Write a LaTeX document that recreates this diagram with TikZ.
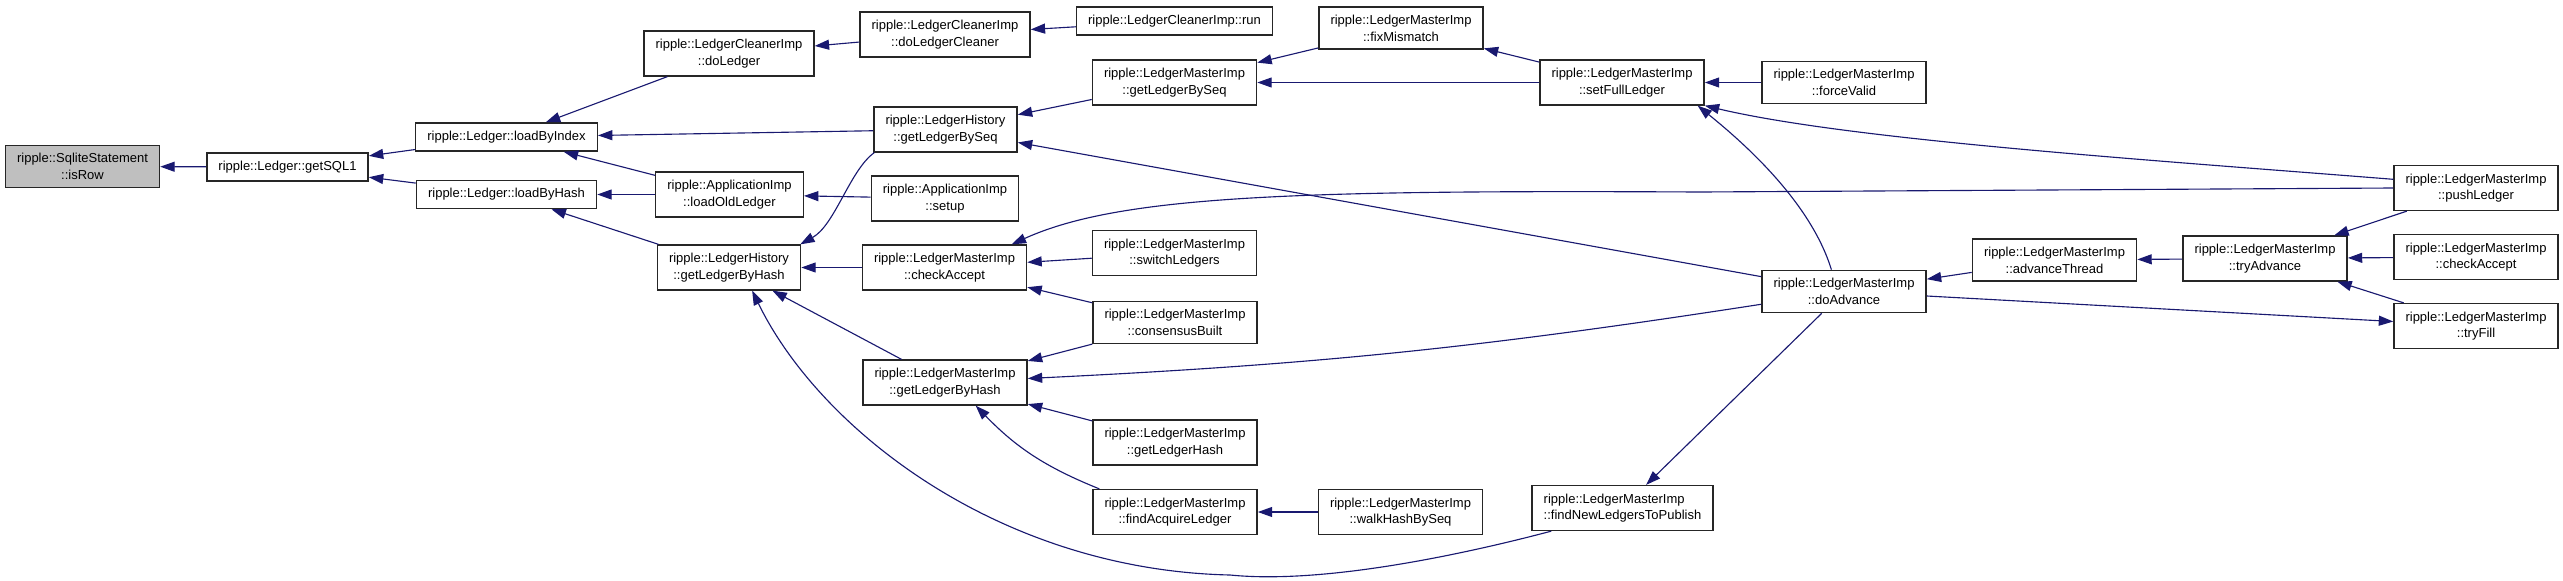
\documentclass[tikz,border=0pt]{standalone}
\usepackage{fontspec}
\setmainfont{Liberation Sans}
\usetikzlibrary{arrows.meta}
\definecolor{callblue}{HTML}{191970}
\definecolor{focusgray}{HTML}{BFBFBF}
\tikzset{
  fn/.style={draw=black!85, line width=1pt, fill=white, align=center, inner xsep=0.29cm, inner ysep=0.2cm, minimum height=0.7cm, font=\fontsize{9.25}{11.9}\selectfont},
  caller/.style={draw=callblue, line width=0.8pt, -{Triangle[length=0.36cm,width=0.25cm]}}
}

\begin{document}
\begin{tikzpicture}[x=0.025cm, y=-0.025cm]
\useasboundingbox (0,0) rectangle (2563,580);

% functions
\node[fn, fill=focusgray] (isRow) at (82.5,166.5) {ripple::SqliteStatement\\::isRow};
\node[fn] (getSQL) at (287.5,167) {ripple::Ledger::getSQL1};
\node[fn] (loadByIndex) at (506.5,137) {ripple::Ledger::loadByIndex};
\node[fn] (loadByHash) at (506.5,194.5) {ripple::Ledger::loadByHash};
\node[fn] (cleanDoLedger) at (729,53.5) {ripple::LedgerCleanerImp\\::doLedger};
\node[fn] (doLedgerCleaner) at (945,34.5) {ripple::LedgerCleanerImp\\::doLedgerCleaner};
\node[fn] (cleanerRun) at (1174.5,21) {ripple::LedgerCleanerImp::run};
\node[fn] (fixMismatch) at (1401,28) {ripple::LedgerMasterImp\\::fixMismatch};
\node[fn] (lmSeq) at (1174.5,82.5) {ripple::LedgerMasterImp\\::getLedgerBySeq};
\node[fn] (lhSeq) at (945.5,129.5) {ripple::LedgerHistory\\::getLedgerBySeq};
\node[fn] (loadOld) at (729.5,194.5) {ripple::ApplicationImp\\::loadOldLedger};
\node[fn] (appSetup) at (945,198.5) {ripple::ApplicationImp\\::setup};
\node[fn] (lhHash) at (729,267.5) {ripple::LedgerHistory\\::getLedgerByHash};
\node[fn] (checkAccept) at (944.5,267.5) {ripple::LedgerMasterImp\\::checkAccept};
\node[fn] (switchLedgers) at (1174.5,253) {ripple::LedgerMasterImp\\::switchLedgers};
\node[fn] (consensusBuilt) at (1175,322.5) {ripple::LedgerMasterImp\\::consensusBuilt};
\node[fn] (lmHash) at (945,382.5) {ripple::LedgerMasterImp\\::getLedgerByHash};
\node[fn] (getLedgerHash) at (1175,442.5) {ripple::LedgerMasterImp\\::getLedgerHash};
\node[fn] (findAcquire) at (1175,512) {ripple::LedgerMasterImp\\::findAcquireLedger};
\node[fn] (walkHash) at (1400.5,512) {ripple::LedgerMasterImp\\::walkHashBySeq};
\node[fn, align=left] (findNew) at (1622.5,508) {ripple::LedgerMasterImp\\::findNewLedgersToPublish};
\node[fn] (setFull) at (1622,82.5) {ripple::LedgerMasterImp\\::setFullLedger};
\node[fn] (forceValid) at (1844,82.5) {ripple::LedgerMasterImp\\::forceValid};
\node[fn] (doAdvance) at (1844,291.5) {ripple::LedgerMasterImp\\::doAdvance};
\node[fn] (advanceThread) at (2054.5,260) {ripple::LedgerMasterImp\\::advanceThread};
\node[fn] (tryAdvance) at (2265,258.5) {ripple::LedgerMasterImp\\::tryAdvance};
\node[fn] (pushLedger) at (2476,188) {ripple::LedgerMasterImp\\::pushLedger};
\node[fn] (checkAcceptB) at (2476,257) {ripple::LedgerMasterImp\\::checkAccept};
\node[fn] (tryFill) at (2476,326) {ripple::LedgerMasterImp\\::tryFill};

% calls, caller -> callee
\foreach \a/\b in {getSQL/isRow, loadByIndex/getSQL, loadByHash/getSQL, cleanDoLedger/loadByIndex,
    lhSeq/loadByIndex, loadOld/loadByIndex, loadOld/loadByHash, lhHash/loadByHash,
    doLedgerCleaner/cleanDoLedger, cleanerRun/doLedgerCleaner, lmSeq/lhSeq, doAdvance/lhSeq,
    appSetup/loadOld, checkAccept/lhHash, lmHash/lhHash, switchLedgers/checkAccept,
    consensusBuilt/checkAccept, fixMismatch/lmSeq, setFull/lmSeq, setFull/fixMismatch,
    forceValid/setFull, consensusBuilt/lmHash, getLedgerHash/lmHash, walkHash/findAcquire,
    doAdvance/findNew, advanceThread/doAdvance, tryAdvance/advanceThread, pushLedger/tryAdvance,
    checkAcceptB/tryAdvance, tryFill/tryAdvance, doAdvance/tryFill}
    \draw[caller] (\a) -- (\b);

\draw[caller] (lhSeq.-162) .. controls (850,170) and (835,225) .. (lhHash.18);
\draw[caller] (findNew.-162) .. controls (1480,550) and (1330,585) .. (1230,575)
    .. controls (1000,570) and (820,430) .. (lhHash.-45);
\draw[caller] (pushLedger.west) -- (1700,192) .. controls (1300,190) and (1120,195) .. (checkAccept.19);
\draw[caller] (pushLedger.174) .. controls (2150,160) and (1850,140) .. (setFull.south east);
\draw[caller] (doAdvance.120) .. controls (1810,200) and (1740,140) .. (setFull.-17);
\draw[caller] (doAdvance) to[bend left=3] (lmHash);
\draw[caller] (findAcquire.163) to[bend left=12] (lmHash.-37);
\end{tikzpicture}
\end{document}
